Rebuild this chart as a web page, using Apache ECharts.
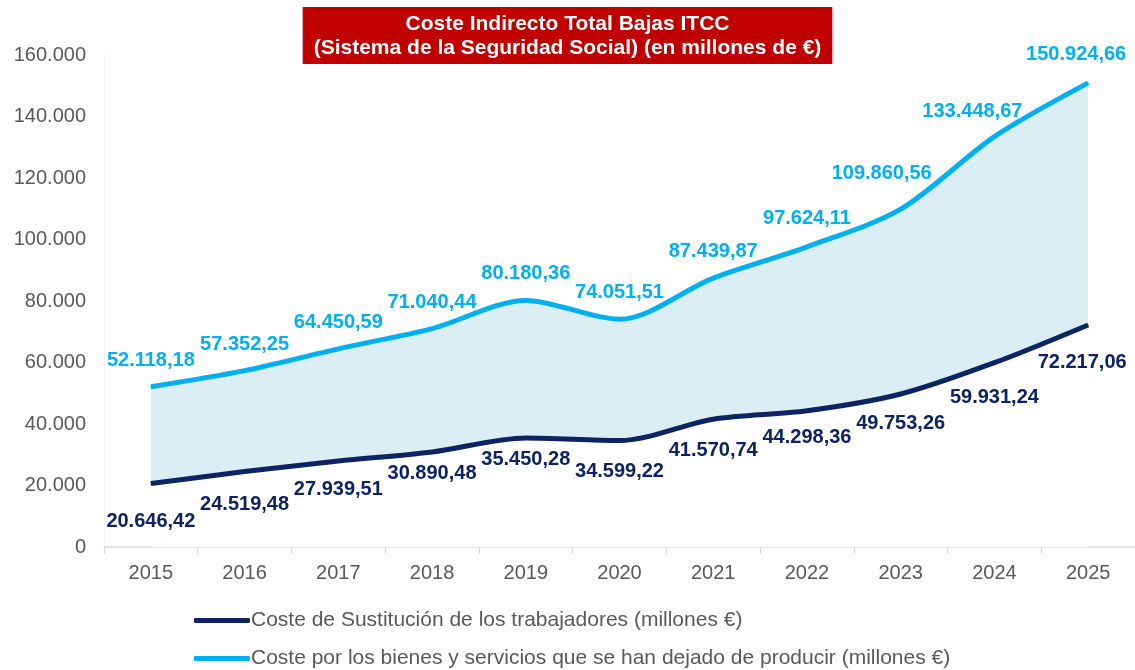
<!DOCTYPE html>
<html>
<head>
<meta charset="utf-8">
<script src="https://cdn.jsdelivr.net/npm/echarts@6/dist/echarts.min.js"></script>
<style>
  html, body { margin: 0; padding: 0; background: #fff; }
  #chart { width: 1135px; height: 670px; }
</style>
</head>
<body>
<div id="chart"></div>
<script>
// data
var years = ['2015', '2016', '2017', '2018', '2019', '2020', '2021', '2022', '2023', '2024', '2025']
var sustitucion = [20646.42, 24519.48, 27939.51, 30890.48, 35450.28, 34599.22, 41570.74, 44298.36, 49753.26, 59931.24, 72217.06]
var bienes = [52118.18, 57352.25, 64450.59, 71040.44, 80180.36, 74051.51, 87439.87, 97624.11, 109860.56, 133448.67, 150924.66]
var yTicks = [0, 20000, 40000, 60000, 80000, 100000, 120000, 140000, 160000]

// label nudges (px) to mimic the original label placement
var bienesLabelShift = [[0, 0], [0, 0], [0, 0], [0, 0], [0, 0], [0, 0], [0, 0], [0, -2], [-19, -9], [-22, 1], [-12, -2]]
var sustLabelShift = [[0, 9], [0, 4], [0, 0], [0, -7], [0, -7], [0, 2], [0, 3], [0, -2], [0, 1], [0, 6], [-6, 9]]

var darkColor = '#0c2463'
var lightColor = '#00b0f0'
var fillColor = '#daeef3'
var font = 'Liberation Sans, Arial'
var nameSust = 'Coste de Sustitución de los trabajadores (millones €)'
var nameBienes = 'Coste por los bienes y servicios que se han dejado de producir (millones €)'

// es-ES number format
function fmt(v, dec) {
  var parts = v.toFixed(dec).split('.')
  parts[0] = parts[0].replace(/\B(?=(\d{3})+(?!\d))/g, '.')
  return parts.join(',')
}

function withShift(values, shifts) {
  return values.map(function (v, i) {
    return { value: v, label: { offset: shifts[i] } }
  })
}

function legendAt(top, name) {
  return {
    left: 189,
    top: top,
    itemWidth: 56,
    itemHeight: 5,
    icon: 'roundRect',
    textStyle: { color: '#595959', fontSize: 21, fontFamily: font, padding: [0, 0, 0, -4] },
    data: [name]
  }
}

var chart = echarts.init(document.getElementById('chart'))
chart.setOption({
  animation: false,
  title: {
    text: 'Coste Indirecto Total Bajas ITCC\n(Sistema de la Seguridad Social) (en millones de €)',
    left: 'center',
    top: 7,
    backgroundColor: '#c00000',
    padding: [5, 11, 4, 11],
    textStyle: {
      color: '#fff',
      fontFamily: font,
      fontWeight: 'bold',
      fontSize: 21,
      lineHeight: 24
    }
  },
  grid: { left: 104, right: 0, top: 55, bottom: 123 },
  legend: [legendAt(605, nameSust), legendAt(643, nameBienes)],
  xAxis: {
    type: 'category',
    data: years,
    boundaryGap: true,
    axisLine: { lineStyle: { color: '#d9d9d9', width: 1.5 } },
    axisTick: { show: true, length: 7, lineStyle: { color: '#d9d9d9' } },
    axisLabel: { color: '#595959', fontSize: 20, fontFamily: font, margin: 16 }
  },
  yAxis: {
    type: 'value',
    min: yTicks[0],
    max: yTicks[yTicks.length - 1],
    interval: 20000,
    axisLine: { show: true, lineStyle: { color: '#f2f2f2' } },
    axisTick: { show: false },
    splitLine: { show: false },
    axisLabel: {
      color: '#595959', fontSize: 20, fontFamily: font, margin: 18,
      formatter: function (v) { return fmt(v, 0) }
    }
  },
  series: [
    {
      name: nameBienes,
      type: 'line',
      data: withShift(bienes, bienesLabelShift),
      smooth: 0.3,
      symbol: 'circle',
      symbolSize: 1,
      showSymbol: true,
      lineStyle: { color: lightColor, width: 5 },
      itemStyle: { color: lightColor },
      areaStyle: { color: fillColor, opacity: 1 },
      label: {
        show: true,
        position: 'top',
        distance: 16,
        color: lightColor,
        fontSize: 20,
        fontWeight: 'bold',
        fontFamily: font,
        formatter: function (p) { return fmt(p.value, 2) }
      },
      z: 2
    },
    {
      name: nameSust,
      type: 'line',
      data: withShift(sustitucion, sustLabelShift),
      smooth: 0.3,
      symbol: 'circle',
      symbolSize: 1,
      showSymbol: true,
      lineStyle: { color: darkColor, width: 5 },
      itemStyle: { color: darkColor },
      areaStyle: { color: '#ffffff', opacity: 1 },
      label: {
        show: true,
        position: 'bottom',
        distance: 18,
        color: darkColor,
        fontSize: 20,
        fontWeight: 'bold',
        fontFamily: font,
        formatter: function (p) { return fmt(p.value, 2) }
      },
      z: 3
    }
  ]
})
</script>
</body>
</html>
